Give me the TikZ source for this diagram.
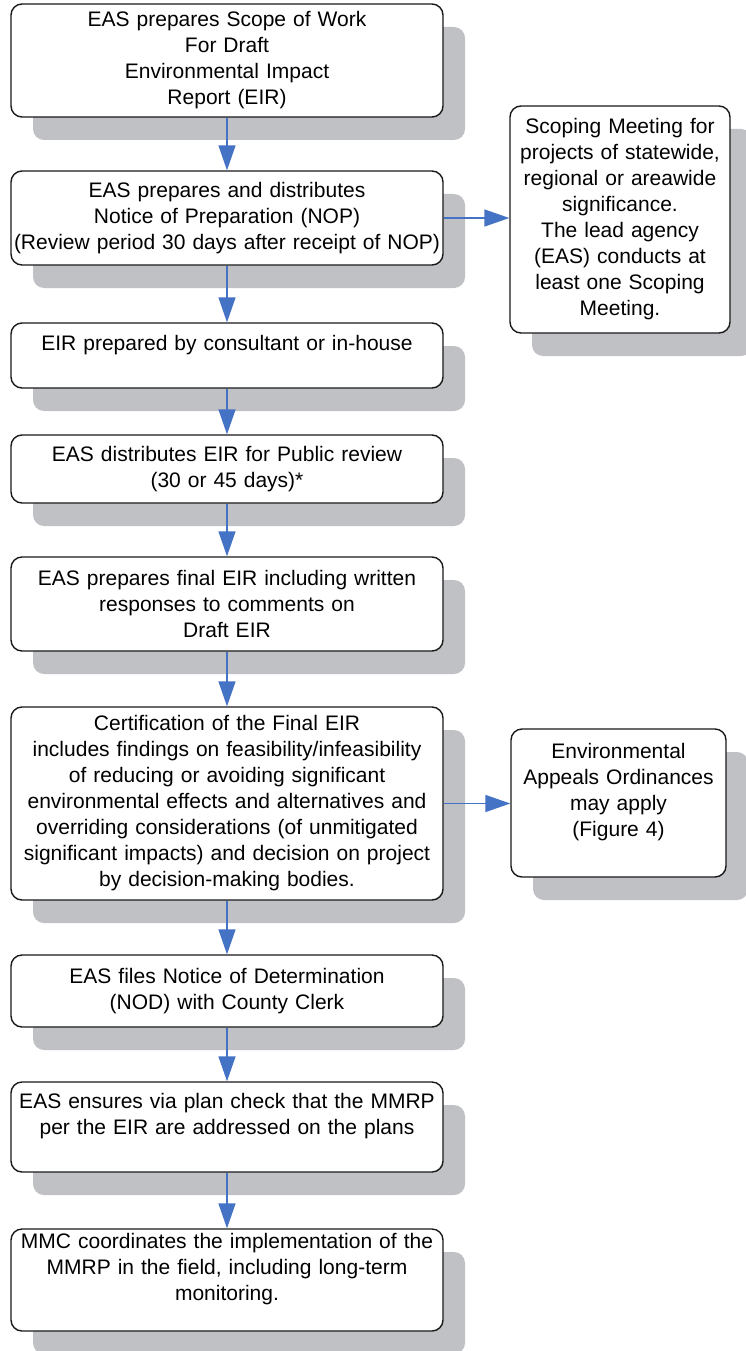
\documentclass[tikz,border=0pt]{standalone}
\usepackage{fontspec}
\setmainfont{Liberation Sans}
\usetikzlibrary{arrows.meta,shadows}
\definecolor{shadowgray}{RGB}{192,193,197}
\definecolor{flowblue}{RGB}{68,114,196}
\begin{document}
\begin{tikzpicture}[x=1pt,y=-1pt,
	box/.style={draw=black!90,line width=1.4pt,fill=white,rounded corners=11pt,
		minimum width=432pt,text width=432pt,align=center,inner sep=0pt,
		font=\fontsize{21}{26}\selectfont,
		drop shadow={shadow xshift=22pt,shadow yshift=-23pt,fill=shadowgray,opacity=1}},
	sidebox/.style={box,minimum width=220pt,text width=220pt},
	flow/.style={draw=flowblue,line width=1.5pt,-{Triangle[length=25pt,width=17pt]}}]
	
	\useasboundingbox (0,0) rectangle (746,1351);
	
	% main column
	\node[box,minimum height=113pt] (scope) at (227,60.5)
		{EAS prepares Scope of Work\\For Draft\\Environmental Impact\\Report (EIR)};
	\node[box,minimum height=94pt] (nop) at (227,218)
		{EAS prepares and distributes\\Notice of Preparation (NOP)\\(Review period 30 days after receipt of NOP)};
	\node[box,minimum height=65pt] (draft) at (227,355.5)
		{EIR prepared by consultant or in-house\\~};
	\node[box,minimum height=68pt] (review) at (227,469)
		{EAS distributes EIR for Public review\\(30 or 45 days)*};
	\node[box,minimum height=94pt] (final) at (227,604)
		{EAS prepares final EIR including written\\responses to comments on\\Draft EIR};
	\node[box,minimum height=193pt] (cert) at (227,803.5)
		{Certification of the Final EIR\\includes findings on feasibility/infeasibility\\of reducing or avoiding significant\\environmental effects and alternatives and\\overriding considerations (of unmitigated\\significant impacts) and decision on project\\by decision-making bodies.};
	\node[box,minimum height=72pt] (nod) at (227,991)
		{EAS files Notice of Determination\\(NOD) with County Clerk};
	\node[box,minimum height=90pt] (check) at (227,1127)
		{EAS ensures via plan check that the MMRP\\per the EIR are addressed on the plans\\~};
	\node[box,minimum height=102pt] (mmc) at (227,1280)
		{MMC coordinates the implementation of the\\MMRP in the field, including long-term\\monitoring.\\~};
	
	% side boxes
	\node[sidebox,minimum height=227pt] (scoping) at (620,219.5)
		{Scoping Meeting for\\projects of statewide,\\regional or areawide\\significance.\\The lead agency\\(EAS) conducts at\\least one Scoping\\Meeting.};
	\node[sidebox,minimum width=215pt,text width=215pt,minimum height=148pt] (appeal) at (618.5,803)
		{Environmental\\Appeals Ordinances\\may apply\\(Figure 4)\\~};
	
	\draw[flow] (scope) -- (nop);
	\draw[flow] (nop) -- (draft);
	\draw[flow] (draft) -- (review);
	\draw[flow] (review) -- (final);
	\draw[flow] (final) -- (cert);
	\draw[flow] (cert) -- (nod);
	\draw[flow] (nod) -- (check);
	\draw[flow] (check) -- (mmc);
	\draw[flow] (nop.east) -- (nop.east -| scoping.west);
	\draw[flow] (cert.east) -- (cert.east -| appeal.west);
	
\end{tikzpicture}
\end{document}
